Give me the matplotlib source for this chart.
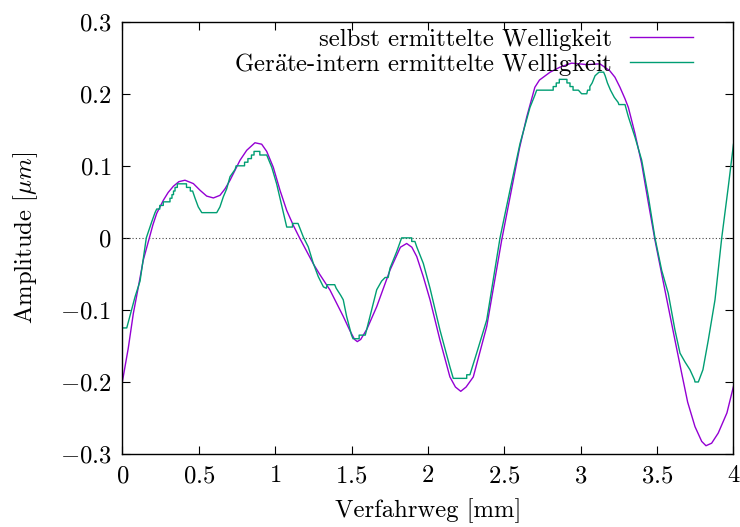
import matplotlib
matplotlib.use('Agg')
import matplotlib.pyplot as plt

# selbst ermittelte Welligkeit (glatte Kurve), x in mm, y in um
x_selbst = [0.000, 0.039, 0.072, 0.105, 0.137, 0.177, 0.200, 0.225, 0.268, 0.300,
            0.334, 0.370, 0.410, 0.465, 0.509, 0.552, 0.596, 0.639, 0.672, 0.705,
            0.770, 0.814, 0.868, 0.912, 0.945, 0.988, 1.032, 1.076, 1.120, 1.160,
            1.210, 1.250, 1.290, 1.359, 1.446, 1.490, 1.520, 1.538, 1.560, 1.600,
            1.665, 1.752, 1.820, 1.861, 1.895, 1.927, 1.970, 2.014, 2.079, 2.144,
            2.180, 2.215, 2.250, 2.297, 2.385, 2.483, 2.559, 2.600, 2.647, 2.700,
            2.730, 2.800, 2.865, 2.940, 3.040, 3.126, 3.190, 3.224, 3.257, 3.290,
            3.312, 3.355, 3.399, 3.440, 3.486, 3.530, 3.573, 3.617, 3.661, 3.700,
            3.748, 3.792, 3.820, 3.857, 3.900, 3.957, 4.000]
y_selbst = [-0.200, -0.153, -0.105, -0.068, -0.031, 0.000, 0.018, 0.034, 0.052, 0.063,
            0.0716, 0.078, 0.080, 0.0753, 0.066, 0.058, 0.0554, 0.059, 0.068, 0.080,
            0.1076, 0.1215, 0.132, 0.130, 0.120, 0.098, 0.066, 0.038, 0.017, 0.000,
            -0.020, -0.036, -0.050, -0.0724, -0.109, -0.129, -0.141, -0.144, -0.141, -0.127,
            -0.0955, -0.0447, -0.013, -0.0078, -0.013, -0.026, -0.054, -0.086, -0.142, -0.193,
            -0.207, -0.213, -0.207, -0.193, -0.123, -0.003, 0.080, 0.125, 0.168, 0.209,
            0.219, 0.230, 0.237, 0.2425, 0.2405, 0.2415, 0.232, 0.223, 0.209, 0.193,
            0.181, 0.145, 0.103, 0.052, -0.003, -0.050, -0.0955, -0.142, -0.188, -0.228,
            -0.262, -0.2825, -0.2885, -0.285, -0.271, -0.243, -0.206]

# Geräte-intern ermittelte Welligkeit (Treppenkurve)
x_geraet = [0.000, 0.029, 0.083, 0.116, 0.157, 0.192, 0.214, 0.225, 0.245, 0.245,
            0.268, 0.268, 0.312, 0.312, 0.325, 0.325, 0.335, 0.335, 0.345, 0.345,
            0.360, 0.360, 0.420, 0.420, 0.445, 0.445, 0.460, 0.476, 0.497, 0.520,
            0.618, 0.639, 0.661, 0.683, 0.705, 0.738, 0.745, 0.800, 0.800, 0.822,
            0.822, 0.845, 0.845, 0.862, 0.862, 0.900, 0.900, 0.945, 0.978, 1.010,
            1.076, 1.114, 1.114, 1.150, 1.185, 1.217, 1.250, 1.283, 1.316, 1.335,
            1.340, 1.390, 1.400, 1.430, 1.446, 1.468, 1.500, 1.510, 1.550, 1.550,
            1.590, 1.621, 1.665, 1.697, 1.720, 1.740, 1.752, 1.796, 1.828, 1.894,
            1.894, 1.915, 1.927, 1.970, 2.014, 2.079, 2.144, 2.166, 2.254, 2.254,
            2.275, 2.319, 2.385, 2.472, 2.537, 2.603, 2.668, 2.700, 2.712, 2.820,
            2.820, 2.840, 2.840, 2.860, 2.860, 2.910, 2.910, 2.930, 2.930, 2.950,
            2.950, 2.985, 3.006, 3.040, 3.045, 3.060, 3.060, 3.075, 3.094, 3.120,
            3.150, 3.160, 3.175, 3.195, 3.220, 3.245, 3.250, 3.290, 3.312, 3.355,
            3.399, 3.443, 3.486, 3.530, 3.573, 3.617, 3.650, 3.682, 3.715, 3.745,
            3.748, 3.770, 3.800, 3.835, 3.879, 3.923, 3.966, 4.000]
y_geraet = [-0.125, -0.125, -0.082, -0.060, 0.000, 0.022, 0.035, 0.040, 0.040, 0.045,
            0.045, 0.050, 0.050, 0.055, 0.055, 0.060, 0.060, 0.065, 0.065, 0.070,
            0.070, 0.075, 0.075, 0.070, 0.070, 0.065, 0.065, 0.055, 0.043, 0.035,
            0.035, 0.043, 0.057, 0.068, 0.085, 0.095, 0.100, 0.100, 0.105, 0.105,
            0.110, 0.110, 0.115, 0.115, 0.120, 0.120, 0.115, 0.115, 0.098, 0.075,
            0.015, 0.015, 0.020, 0.020, 0.001, -0.0125, -0.0355, -0.054, -0.068, -0.070,
            -0.065, -0.065, -0.070, -0.080, -0.086, -0.109, -0.135, -0.140, -0.140, -0.135,
            -0.135, -0.109, -0.072, -0.060, -0.055, -0.055, -0.042, -0.019, 0.000, 0.000,
            -0.005, -0.005, -0.0125, -0.0355, -0.070, -0.128, -0.179, -0.195, -0.195, -0.190,
            -0.190, -0.160, -0.114, 0.000, 0.066, 0.131, 0.181, 0.198, 0.205, 0.205,
            0.210, 0.210, 0.215, 0.215, 0.220, 0.220, 0.215, 0.215, 0.210, 0.210,
            0.205, 0.205, 0.200, 0.200, 0.205, 0.205, 0.210, 0.215, 0.225, 0.230,
            0.230, 0.225, 0.215, 0.205, 0.195, 0.188, 0.185, 0.185, 0.168, 0.140,
            0.108, 0.057, 0.000, -0.045, -0.077, -0.128, -0.160, -0.172, -0.183, -0.197,
            -0.200, -0.200, -0.183, -0.142, -0.086, 0.000, 0.071, 0.130]

x_ticks = [0, 0.5, 1, 1.5, 2, 2.5, 3, 3.5, 4]
x_ticklabels = ['0', '0.5', '1', '1.5', '2', '2.5', '3', '3.5', '4']
y_ticks = [-0.3, -0.2, -0.1, 0, 0.1, 0.2, 0.3]
y_ticklabels = ['-0.3', '-0.2', '-0.1', '0', '0.1', '0.2', '0.3']

plt.rcParams['font.family'] = ['cmr10', 'DejaVu Serif']
plt.rcParams['mathtext.fontset'] = 'cm'
plt.rcParams['axes.unicode_minus'] = False
plt.rcParams['axes.formatter.use_mathtext'] = True
plt.rcParams['font.size'] = 17.8

fig = plt.figure(figsize=(7.4, 5.27), dpi=100)
ax = fig.add_axes([0.1653, 0.1385, 0.8259, 0.8203])

ax.axhline(0, color='#444444', lw=0.8, ls=(0, (1, 2)))
ax.plot(x_selbst, y_selbst, color='#9400d3', lw=1.0, label='selbst ermittelte Welligkeit')
ax.plot(x_geraet, y_geraet, color='#009e73', lw=1.0,
        label=r'Ger$\ddot{\mathrm{a}}$te-intern ermittelte Welligkeit')

ax.set_xlim(0, 4)
ax.set_ylim(-0.3, 0.3)
ax.set_xticks(x_ticks)
ax.set_xticklabels(['$' + s + '$' for s in x_ticklabels])
ax.set_yticks(y_ticks)
ax.set_yticklabels(['$' + s + '$' for s in y_ticklabels])
ax.tick_params(direction='in', length=6, width=0.8, top=True, right=True, pad=8)
for sp in ax.spines.values():
    sp.set_linewidth(1.0)

ax.set_xlabel('Verfahrweg [mm]', labelpad=8)
ax.set_ylabel(r'Amplitude [$\mu m$]', labelpad=14)

ax.legend(loc='upper right', bbox_to_anchor=(0.9333, 0.985), frameon=False,
          markerfirst=False, handlelength=2.55, handletextpad=0.7,
          labelspacing=0.0, borderpad=0, borderaxespad=0)

fig.savefig('out.png', dpi=100)
